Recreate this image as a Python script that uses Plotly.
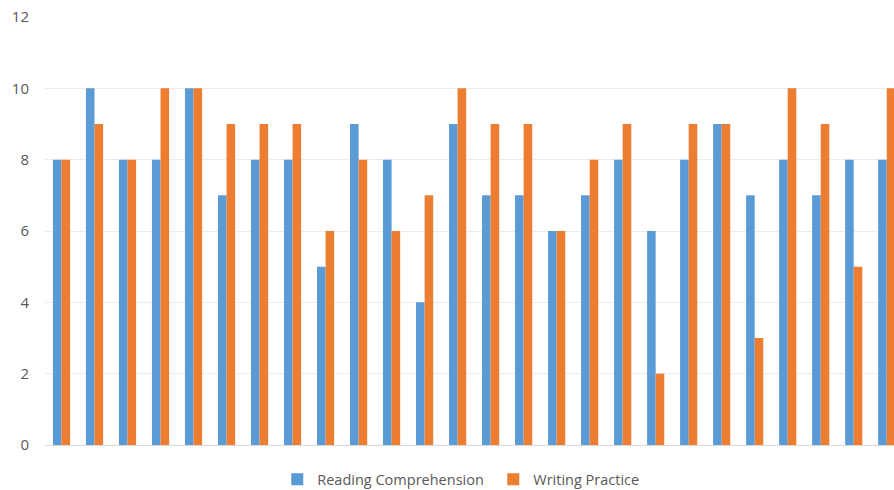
import plotly.graph_objects as go

categories = [str(i) for i in range(1, 27)]
reading = [8, 10, 8, 8, 10, 7, 8, 8, 5, 9, 8, 4, 9, 7, 7, 6, 7, 8, 6, 8, 9, 7, 8, 7, 8, 8]
writing = [8, 9, 8, 10, 10, 9, 9, 9, 6, 8, 6, 7, 10, 9, 9, 6, 8, 9, 2, 9, 9, 3, 10, 9, 5, 10]
series_names = ["Reading Comprehension", "Writing Practice"]
colors = ["#5B9BD5", "#ED7D31"]

fig = go.Figure()
for name, vals, col in zip(series_names, [reading, writing], colors):
    fig.add_trace(go.Bar(x=categories, y=vals, name=name, marker=dict(color=col, line=dict(width=0))))

fig.update_layout(
    width=894, height=490,
    margin=dict(l=45, r=0, t=17, b=45, autoexpand=False),
    paper_bgcolor="white", plot_bgcolor="white",
    barmode="group", bargap=0.48, bargroupgap=0,
    font=dict(family="Open Sans", size=14, color="#595959"),
    showlegend=True,
    legend=dict(orientation="h", x=0.528, xanchor="center", y=-0.08, yanchor="middle",
                font=dict(size=14.5, color="#595959"), traceorder="normal",
                entrywidth=171, entrywidthmode="pixels"),
    xaxis=dict(type="category", range=[-0.5, 25.22], showticklabels=False, showgrid=False,
               zeroline=False, showline=True, linecolor="#d9d9d9", linewidth=1, ticks=""),
    yaxis=dict(range=[0, 12], dtick=2, showgrid=True, gridcolor="#ececec", gridwidth=1,
               zeroline=False, showline=False, ticks="", ticklabelstandoff=15,
               tickfont=dict(size=15, color="#595959")),
)

fig.write_html("out.html", config={"displayModeBar": False},
               post_script="document.body.style.margin='0';document.body.style.padding='0';")
